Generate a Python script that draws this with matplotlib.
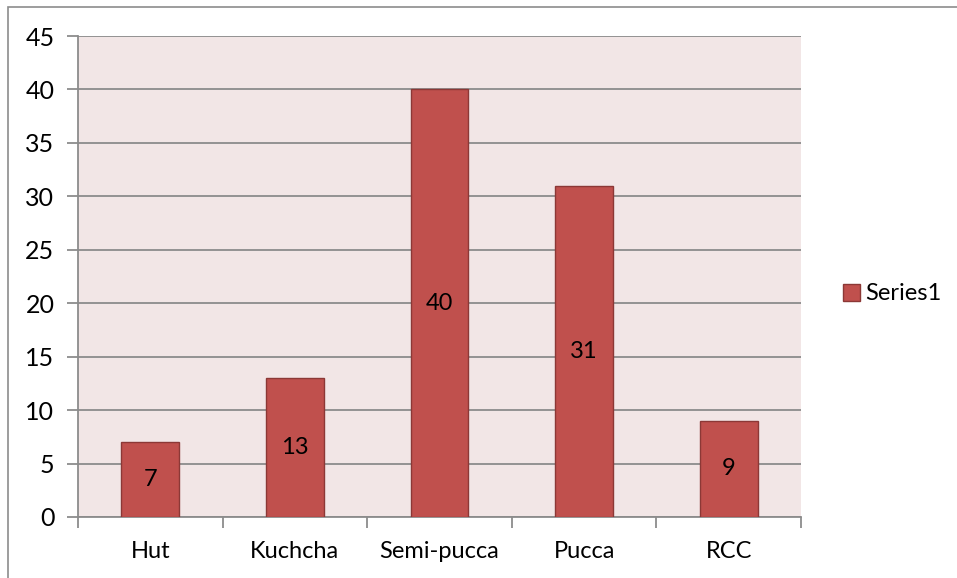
import matplotlib.pyplot as plt
from matplotlib.patches import Rectangle, Patch

categories = ["Hut", "Kuchcha", "Semi-pucca", "Pucca", "RCC"]
values = [7, 13, 40, 31, 9]
yticks = [0, 5, 10, 15, 20, 25, 30, 35, 40, 45]

plt.rcParams['font.family'] = ['Lato', 'DejaVu Sans']
FS = 17

W, H = 957, 578
fig = plt.figure(figsize=(W / 100, H / 100), dpi=100)

# outer frame (right and bottom edges fall outside the picture)
fig.patches.append(Rectangle((8 / W, -0.05), 1.1, 1.05 - 7 / H, transform=fig.transFigure,
                             fill=False, edgecolor="#8c8c8c", linewidth=1.2))

ax = fig.add_axes([78 / W, 1 - 517 / H, (801 - 78) / W, (517 - 36) / H])
ax.set_facecolor("#f2e6e6")

x = list(range(len(categories)))
ax.bar(x, values, width=0.4, color="#c0504d", edgecolor="#8c3836",
       linewidth=1, zorder=3, label="Series1")
for xi, v in zip(x, values):
    ax.text(xi, v / 2, str(v), ha="center", va="center", fontsize=FS, zorder=4)

ax.set_xlim(-0.5, len(categories) - 0.5)
ax.set_ylim(0, 45)
ax.set_yticks(yticks)
ax.set_yticklabels([str(t) for t in yticks], fontsize=FS + 1)
ax.yaxis.grid(True, color="#8c8c8c", linewidth=1.3, zorder=1)
ax.set_axisbelow(True)

ax.set_xticks(x)
ax.set_xticklabels(categories, fontsize=FS)
ax.tick_params(axis="x", length=0, pad=17)
ax.set_xticks([i - 0.5 for i in range(len(categories) + 1)], minor=True)
ax.tick_params(axis="x", which="minor", length=8, color="#8c8c8c", width=1.3)
ax.tick_params(axis="y", length=8, color="#8c8c8c", width=1.3, pad=9)

for side in ["top", "right"]:
    ax.spines[side].set_visible(False)
for side in ["left", "bottom"]:
    ax.spines[side].set_color("#8c8c8c")
    ax.spines[side].set_linewidth(1.3)

fig.legend(handles=[Patch(facecolor="#c0504d", edgecolor="#8c3836", label="Series1")],
           loc="center left", bbox_to_anchor=(822 / W, 1 - 294 / H), frameon=False,
           fontsize=FS, handlelength=0.7, handleheight=0.7, handletextpad=0.25)

fig.savefig("out.png", dpi=100)
